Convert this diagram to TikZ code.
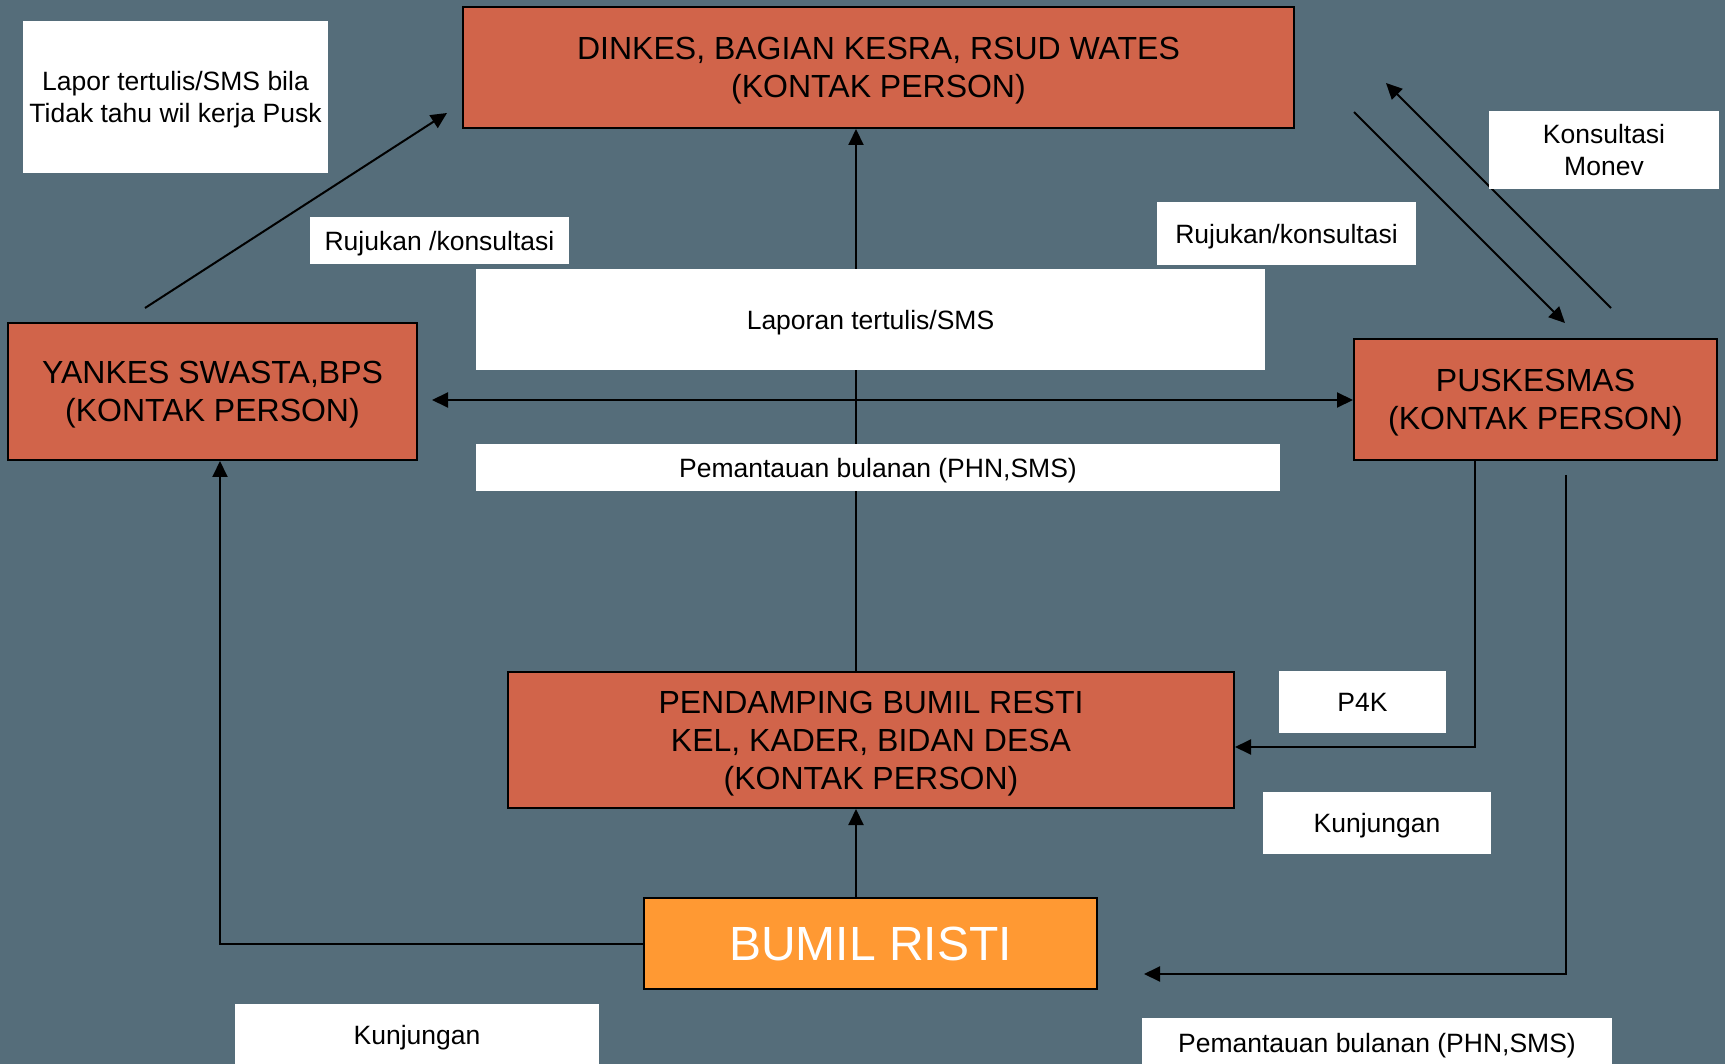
\documentclass[tikz,border=0pt]{standalone}
\usepackage{fontspec}
\setmainfont{Liberation Sans}
\usetikzlibrary{arrows.meta}
\definecolor{bgc}{RGB}{85,109,122}
\definecolor{redbox}{RGB}{209,100,74}
\definecolor{orangebox}{RGB}{255,153,51}
\tikzset{
  mainbox/.style={draw=black, line width=2pt, fill=redbox, align=center, inner sep=0pt,
    text depth=0pt, font=\fontsize{32}{38}\selectfont},
  labelbox/.style={fill=white, draw=none, align=center, inner sep=0pt,
    text depth=0pt, font=\fontsize{26.5}{32}\selectfont},
  labeltext/.style={font=\fontsize{26.5}{32}\selectfont},
  conn/.style={line width=2pt, draw=black},
  arr/.style={conn, -{Triangle[length=16pt,width=15pt]}},
  darr/.style={conn, {Triangle[length=16pt,width=15pt]}-{Triangle[length=16pt,width=15pt]}},
}
\newcommand{\boxat}[6]{% name, style, x1, y1, x2, y2 ; text follows
  \node[#2, minimum width=#5pt-#3pt, minimum height=#6pt-#4pt] (#1) at ({(#3+#5)/2},{(#4+#6)/2})}
\begin{document}
\begin{tikzpicture}[x=1pt,y=-1pt]
\useasboundingbox (0,0) rectangle (1725,1064);
\clip (0,0) rectangle (1725,1064);
\fill[bgc] (0,0) rectangle (1725,1064);

% main boxes
\boxat{dinkes}{mainbox}{463}{7}{1294}{128} {DINKES, BAGIAN KESRA, RSUD WATES\\(KONTAK PERSON)};
\boxat{yankes}{mainbox}{8}{323}{417}{460} {YANKES SWASTA,BPS\\(KONTAK PERSON)};
\boxat{pusk}{mainbox}{1354}{339}{1717}{460} {PUSKESMAS\\(KONTAK PERSON)};
\boxat{pend}{mainbox}{508}{672}{1234}{808} {PENDAMPING BUMIL RESTI\\KEL, KADER, BIDAN DESA\\(KONTAK PERSON)};
\boxat{bumil}{mainbox, fill=orangebox, text=white, font=\fontsize{48}{56}\selectfont}{644}{898}{1097}{989} {BUMIL RISTI};

% connector coordinates
\coordinate (yk1) at (145,308);
\coordinate (dk1) at (447,113);
\coordinate (pk1) at (1611,308);
\coordinate (dk2) at (1386,83);
\coordinate (dk3) at (1354,112);
\coordinate (pk2) at (1565,323);
\coordinate (hl) at (432,400);
\coordinate (pk3) at (1566,475);
\coordinate (bm1) at (1144,974);

% connectors (drawn before label boxes so boxes cover them)
\draw[arr] (yk1) -- (dk1);
\draw[arr] (pend.north -| 856,0) -- (dinkes.south -| 856,0);
\draw[darr] (hl) -- (pusk.west |- hl);
\draw[arr] (pk1) -- (dk2);
\draw[arr] (dk3) -- (pk2);
\draw[arr] (pusk.south -| 1475,0) -- (1475,747) -- (pend.east |- 0,747);
\draw[arr] (pk3) -- (1566,974) -- (bm1);
\draw[arr] (bumil.north -| 856,0) -- (pend.south -| 856,0);
\draw[arr] (bumil.west |- 0,944) -- (220,944) -- (yankes.south -| 220,0);

% label boxes
\boxat{lapor}{labelbox}{23}{21}{328}{173} {Lapor tertulis/SMS bila\\Tidak tahu wil kerja Pusk};
\boxat{ruj1}{labelbox}{310}{217}{569}{264} {Rujukan /konsultasi};
\boxat{lap}{labelbox}{476}{269}{1265}{370} {Laporan tertulis/SMS};
\boxat{ruj2}{labelbox}{1157}{202}{1416}{265} {Rujukan/konsultasi};
\boxat{kons}{labelbox}{1489}{111}{1719}{189} {Konsultasi\\Monev};
\boxat{pem1}{labelbox}{476}{444}{1280}{491} {Pemantauan bulanan (PHN,SMS)};
\boxat{p4k}{labelbox}{1279}{671}{1446}{733} {P4K};
\boxat{kunj1}{labelbox}{1263}{792}{1491}{854} {Kunjungan};
\boxat{kunj2}{labelbox}{235}{1004}{599}{1070} {};
\node[labeltext] (kunj2t) at (417,1038) {Kunjungan};
\boxat{pem2}{labelbox}{1142}{1018}{1612}{1080} {};
\node[labeltext] (pem2t) at (1377,1046) {Pemantauan bulanan (PHN,SMS)};
\end{tikzpicture}
\end{document}
